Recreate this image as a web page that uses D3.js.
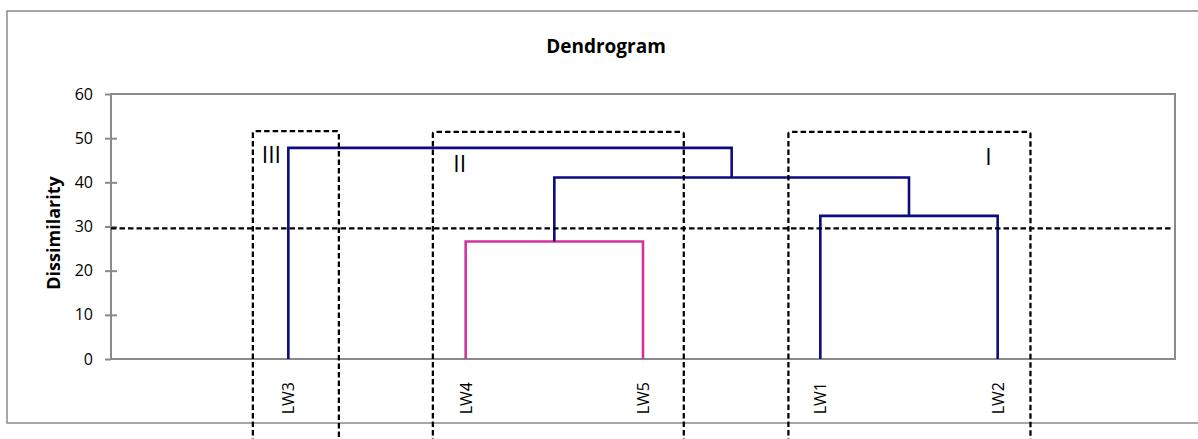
<!DOCTYPE html>
<html>
<head>
  <meta charset="UTF-8">
  <title>Dendrogram</title>
  <style>
  body{
    margin: 0;
    background: #fff;
  }
  text{
    font-family: "Open Sans", "Noto Sans", sans-serif;
  }
  </style>
</head>
<body>
  <script src="https://cdn.jsdelivr.net/npm/d3@7"></script>
  <script type="text/javascript">
  // leaves in dendrogram order
  var leaves = ['LW3', 'LW4', 'LW5', 'LW1', 'LW2'];
  // merges: child a, child b, dissimilarity at which they join
  var mergeA = ['LW4', 'LW1', 'LW4+LW5', 'LW3'];
  var mergeB = ['LW5', 'LW2', 'LW1+LW2', 'LW4+LW5+LW1+LW2'];
  var mergeHeight = [26.6, 32.4, 41.1, 47.8];
  // cut line
  var cutHeight = 29.6;
  // cluster boxes (x in leaf units, top in dissimilarity)
  var clusterNames = ['III', 'II', 'I'];
  var clusterFrom = [0.80, 1.815, 3.82];
  var clusterTo = [1.285, 3.23, 5.185];
  var clusterTop = [51.6, 51.4, 51.4];
  var clusterLabelX = [0.85, 1.93, 4.93];
  var clusterLabelY = [44.4, 42.4, 43.9];
  var yTicks = [0, 10, 20, 30, 40, 50, 60];

  var width = 1198, height = 439;
  var svg = d3.select('body').append('svg')
    .attr('width', width)
    .attr('height', height);

  var plot = {left: 111, top: 94, right: 1175, bottom: 359};

  var x = d3.scaleLinear().domain([0, leaves.length + 1]).range([plot.left, plot.right]);
  var y = d3.scaleLinear().domain([0, 60]).range([plot.bottom, plot.top]);

  //外框
  svg.append('rect')
    .attr('x', 7).attr('y', 11)
    .attr('width', 1210).attr('height', 412)
    .attr('fill', 'none')
    .attr('stroke', '#8a8a8a')
    .attr('stroke-width', 1.5);

  svg.append('text')
    .attr('x', 606).attr('y', 53)
    .attr('text-anchor', 'middle')
    .attr('font-size', 19)
    .attr('font-weight', 'bold')
    .text('Dendrogram');

  //绘图区
  svg.append('rect')
    .attr('x', plot.left).attr('y', plot.top)
    .attr('width', plot.right - plot.left).attr('height', plot.bottom - plot.top)
    .attr('fill', 'none')
    .attr('stroke', '#8a8a8a')
    .attr('stroke-width', 2);

  var yAxis = svg.append('g')
    .attr('transform', 'translate(' + plot.left + ',0)')
    .call(d3.axisLeft(y).tickValues(yTicks).tickSize(6).tickPadding(12));
  yAxis.select('.domain').remove();
  yAxis.selectAll('.tick line')
    .attr('x1', function(d){ return d > 0 && d < 60 ? 6 : 0; })
    .attr('stroke', '#8a8a8a').attr('stroke-width', 2);
  yAxis.selectAll('.tick text')
    .attr('fill', '#000')
    .style('font-size', '16px')
    .style('font-family', '"Open Sans", sans-serif');

  svg.append('text')
    .attr('transform', 'translate(60,233) rotate(-90)')
    .attr('text-anchor', 'middle')
    .attr('font-size', 18)
    .attr('font-weight', 'bold')
    .text('Dissimilarity');

  var xAxis = svg.append('g')
    .attr('transform', 'translate(0,' + plot.bottom + ')')
    .call(d3.axisBottom(x)
      .tickValues(leaves.map(function(d, i){ return i + 1; }))
      .tickFormat(function(d){ return leaves[d - 1]; })
      .tickSize(0));
  xAxis.select('.domain').remove();
  xAxis.selectAll('.tick text')
    .attr('transform', 'rotate(-90)')
    .attr('text-anchor', 'end')
    .attr('x', -23).attr('y', 0).attr('dy', '0.35em')
    .attr('fill', '#000')
    .style('font-size', '16px')
    .style('font-family', '"Open Sans", sans-serif');

  //树的节点
  var nodes = {};
  leaves.forEach(function(d, i){ nodes[d] = {x: i + 1, h: 0}; });
  var links = mergeA.map(function(a, i){
    var b = mergeB[i];
    var na = nodes[a], nb = nodes[b], h = mergeHeight[i];
    nodes[a + '+' + b] = {x: (na.x + nb.x) / 2, h: h};
    return {a: na, b: nb, h: h};
  });

  svg.selectAll('path.link')
    .data(links)
    .enter()
    .append('path')
    .attr('class', 'link')
    .attr('d', function(d){
      return 'M' + x(d.a.x) + ',' + y(d.a.h) +
        'V' + y(d.h) + 'H' + x(d.b.x) + 'V' + y(d.b.h);
    })
    .attr('fill', 'none')
    .attr('stroke', function(d){ return d.h < cutHeight ? '#d1339c' : '#0c0c80'; })
    .attr('stroke-width', 2.6);

  //阈值线
  svg.append('line')
    .attr('x1', plot.left).attr('x2', plot.right - 2)
    .attr('y1', y(cutHeight)).attr('y2', y(cutHeight))
    .attr('stroke', '#000')
    .attr('stroke-width', 2.25)
    .attr('stroke-dasharray', '5.5,3');

  //聚类框
  svg.selectAll('path.box')
    .data(clusterNames)
    .enter()
    .append('path')
    .attr('class', 'box')
    .attr('d', function(d, i){
      var x0 = x(clusterFrom[i]), x1 = x(clusterTo[i]), t = y(clusterTop[i]), r = 2;
      return 'M' + x0 + ',' + (height + 5) + 'V' + (t + r) +
        'Q' + x0 + ',' + t + ' ' + (x0 + r) + ',' + t +
        'H' + (x1 - r) + 'Q' + x1 + ',' + t + ' ' + x1 + ',' + (t + r) +
        'V' + (height + 5);
    })
    .attr('fill', 'none')
    .attr('stroke', '#000')
    .attr('stroke-width', 2.25)
    .attr('stroke-dasharray', '5.5,3');

  svg.selectAll('text.cluster')
    .data(clusterNames)
    .enter()
    .append('text')
    .attr('class', 'cluster')
    .attr('x', function(d, i){ return x(clusterLabelX[i]); })
    .attr('y', function(d, i){ return y(clusterLabelY[i]); })
    .attr('font-size', 23)
    .attr('font-weight', 500)
    .text(function(d){ return d; });
  </script>
</body>
</html>
